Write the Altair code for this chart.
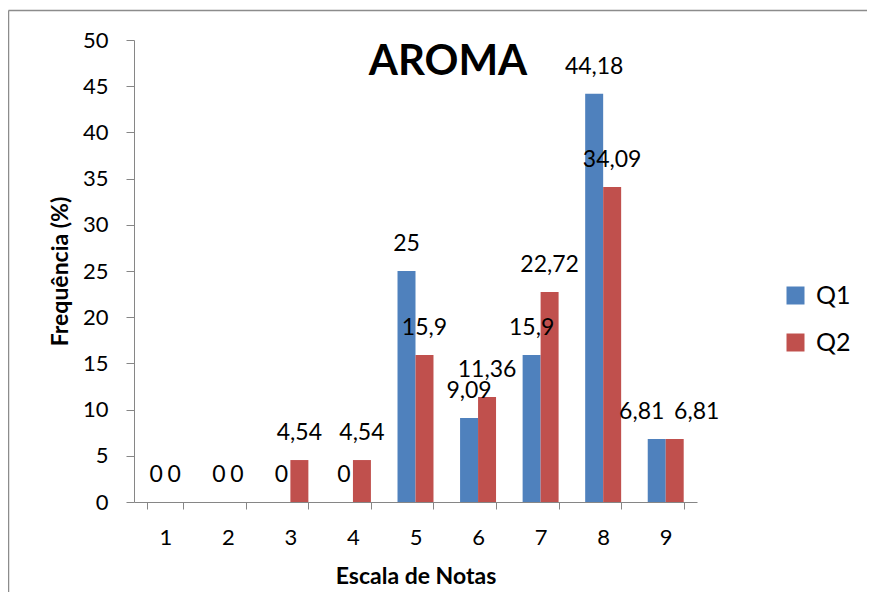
import altair as alt
import pandas as pd

# ---- data ----
notas = ["1", "2", "3", "4", "5", "6", "7", "8", "9"]
series = ["Q1", "Q2"]
q1 = [0, 0, 0, 0, 25, 9.09, 15.9, 44.18, 6.81]
q2 = [0, 0, 4.54, 4.54, 15.9, 11.36, 22.72, 34.09, 6.81]
y_ticks = [0, 5, 10, 15, 20, 25, 30, 35, 40, 45, 50]
colors = ["#4F81BD", "#C0504D"]
titulo = "AROMA"


def fmt(v):
    return ("%g" % v).replace(".", ",")


rows = []
for n, a, b in zip(notas, q1, q2):
    rows.append({"nota": n, "serie": "Q1", "valor": a, "rotulo": fmt(a)})
    rows.append({"nota": n, "serie": "Q2", "valor": b, "rotulo": fmt(b)})
df = pd.DataFrame(rows)

FONT = "Lato"
AX = "#868686"

x_enc = alt.X(
    "nota:N",
    sort=notas,
    scale=alt.Scale(paddingInner=0.425, paddingOuter=0.2125),
    axis=alt.Axis(
        title="Escala de Notas",
        labelAngle=0,
        tickBand="extent",
        domainColor=AX,
        tickColor=AX,
        tickSize=7,
        labelFontSize=22,
        labelPadding=18,
        labelColor="black",
        titleFontSize=23,
        titleFontWeight="bold",
        titleColor="black",
        titleBaseline="alphabetic",
        titleY=81,
    ),
)
y_enc = alt.Y(
    "valor:Q",
    scale=alt.Scale(domain=[0, 50], nice=False),
    axis=alt.Axis(
        values=y_ticks,
        title="Frequência (%)",
        grid=False,
        domainColor=AX,
        tickColor=AX,
        tickSize=8,
        labelFontSize=22,
        labelPadding=18,
        labelColor="black",
        titleFontSize=23,
        titleFontWeight="bold",
        titleColor="black",
        titleAngle=270,
        titleAlign="center",
        titleBaseline="alphabetic",
        titleX=-67,
        titleY=231,
    ),
)
xoff = alt.XOffset("serie:N", sort=series, scale=alt.Scale(paddingInner=0, paddingOuter=0))

bars = alt.Chart(df).mark_bar().encode(
    x=x_enc,
    y=y_enc,
    xOffset=xoff,
    color=alt.Color(
        "serie:N",
        scale=alt.Scale(domain=series, range=colors),
        legend=alt.Legend(
            title=None,
            orient="none",
            legendX=649,
            legendY=243,
            symbolType="square",
            symbolSize=324,
            symbolStrokeWidth=0,
            labelFontSize=25,
            labelColor="black",
            labelOffset=8,
            rowPadding=21,
            padding=0,
        ),
    ),
)

txt = dict(baseline="alphabetic", align="center", dy=-20, fontSize=23, color="black", font=FONT)
enc = dict(x=x_enc, y=y_enc, xOffset=xoff, text="rotulo:N")

labels = (
    alt.Chart(df)
    .mark_text(**txt)
    .encode(**enc)
    .transform_filter(alt.datum.nota != notas[-1])
)
# last category: Excel pushes the two identical labels apart
label_last_q1 = (
    alt.Chart(df)
    .mark_text(dx=-15, **txt)
    .encode(**enc)
    .transform_filter((alt.datum.nota == notas[-1]) & (alt.datum.serie == "Q1"))
)
label_last_q2 = (
    alt.Chart(df)
    .mark_text(dx=22, **txt)
    .encode(**enc)
    .transform_filter((alt.datum.nota == notas[-1]) & (alt.datum.serie == "Q2"))
)

title_mark = alt.Chart(alt.Data(values=[{"t": titulo}])).mark_text(
    fontSize=42, fontWeight="bold", font=FONT, color="black", align="center", baseline="alphabetic"
).encode(x=alt.value(314), y=alt.value(35), text="t:N")

# outer chart frame (only its left and top edges fall inside the picture)
frame_left = alt.Chart(alt.Data(values=[{}])).mark_rule(
    color="#8c8c8c", strokeWidth=1.5
).encode(x=alt.value(-125.5), y=alt.value(-29.5), y2=alt.value(600))
frame_top = alt.Chart(alt.Data(values=[{}])).mark_rule(
    color="#8c8c8c", strokeWidth=1.5
).encode(x=alt.value(-125.5), x2=alt.value(760), y=alt.value(-29.5))

chart = (
    alt.layer(frame_left, frame_top, bars, labels, label_last_q1, label_last_q2, title_mark)
    .properties(
        width=563,
        height=462,
        autosize=alt.AutoSizeParams(type="none"),
        padding={"left": 126, "top": 32, "right": 170, "bottom": 90},
    )
    .configure(font=FONT)
    .configure_view(stroke=None)
    .configure_axis(labelFont=FONT, titleFont=FONT)
    .configure_legend(labelFont=FONT)
)

chart.save("out.html", embed_options={"renderer": "svg", "actions": False})
